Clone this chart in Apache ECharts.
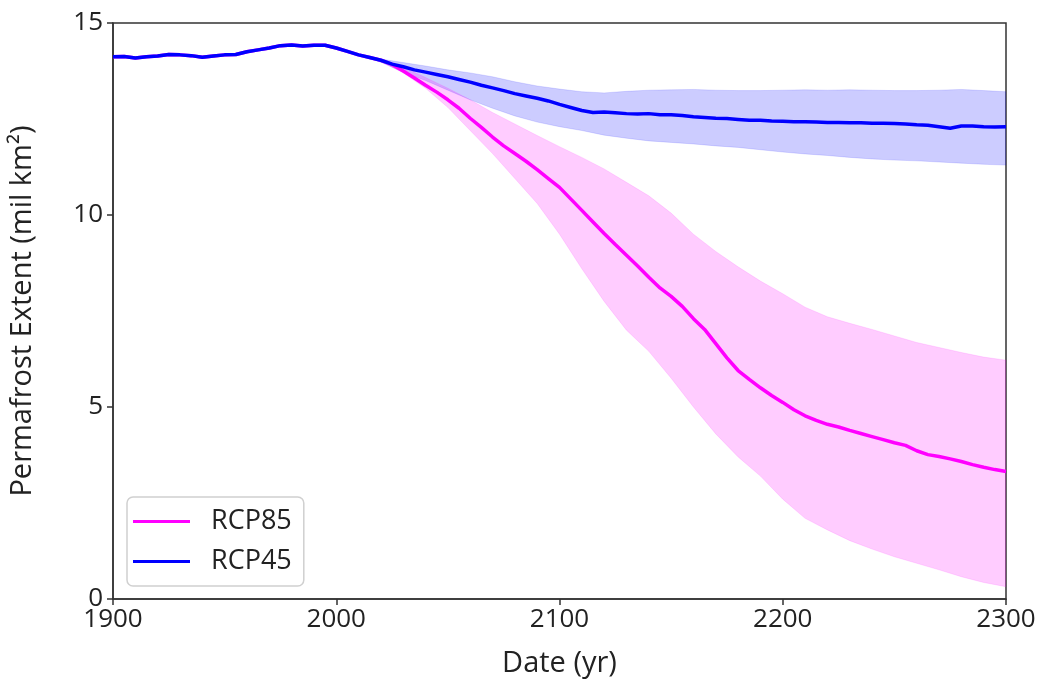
<!DOCTYPE html>
<html>
<head>
<meta charset="utf-8">
<script src="https://cdn.jsdelivr.net/npm/echarts@6/dist/echarts.min.js"></script>
<style>
html,body{margin:0;padding:0;background:#fff;}
#chart{width:1042px;height:683px;}
</style>
</head>
<body>
<div id="chart"></div>
<script>
const years = [1900,1905,1910,1915,1920,1925,1930,1935,1940,1945,1950,1955,1960,1965,1970,1975,1980,1985,1990,1995,
2000,2005,2010,2015,2020,2025,2030,2035,2040,2045,2050,2055,2060,2065,2070,2075,2080,2085,2090,2095,
2100,2105,2110,2115,2120,2125,2130,2135,2140,2145,2150,2155,2160,2165,2170,2175,2180,2185,2190,2195,
2200,2205,2210,2215,2220,2225,2230,2235,2240,2245,2250,2255,2260,2265,2270,2275,2280,2285,2290,2295,2300];

const rcp45Mean = [14.12,14.13,14.09,14.12,14.14,14.18,14.17,14.15,14.11,14.14,14.17,14.18,14.25,14.30,14.35,14.41,14.43,14.40,14.42,14.42,
14.35,14.26,14.17,14.10,14.03,13.93,13.86,13.78,13.72,13.66,13.60,13.53,13.46,13.38,13.31,13.24,13.16,13.10,13.04,12.97,
12.88,12.80,12.72,12.67,12.68,12.66,12.64,12.63,12.64,12.61,12.61,12.59,12.56,12.54,12.52,12.51,12.49,12.47,12.47,12.45,
12.44,12.43,12.43,12.42,12.41,12.41,12.40,12.40,12.39,12.39,12.38,12.37,12.35,12.34,12.30,12.26,12.32,12.32,12.30,12.29,12.30];

const rcp85Mean = [14.12,14.13,14.09,14.12,14.14,14.18,14.17,14.15,14.11,14.14,14.17,14.18,14.25,14.30,14.35,14.41,14.43,14.40,14.42,14.42,
14.35,14.26,14.17,14.10,14.03,13.92,13.75,13.57,13.38,13.20,13.00,12.78,12.52,12.28,12.03,11.80,11.60,11.40,11.18,10.95,
10.72,10.42,10.12,9.82,9.52,9.23,8.95,8.67,8.38,8.10,7.88,7.62,7.30,7.02,6.65,6.28,5.95,5.72,5.50,5.30,
5.12,4.93,4.77,4.65,4.55,4.48,4.39,4.31,4.23,4.15,4.07,4.00,3.86,3.76,3.71,3.65,3.58,3.50,3.43,3.37,3.32];

const bandYears = [2010,2020,2030,2040,2050,2060,2070,2080,2090,2100,2110,2120,2130,2140,2150,
2160,2170,2180,2190,2200,2210,2220,2230,2240,2250,2260,2270,2280,2290,2300];

const rcp45Upper = [14.17,14.06,13.97,13.88,13.78,13.70,13.60,13.47,13.36,13.28,13.21,13.18,13.22,13.25,13.26,
13.27,13.25,13.24,13.24,13.25,13.26,13.25,13.26,13.25,13.24,13.24,13.25,13.27,13.24,13.21];
const rcp45Lower = [14.17,13.98,13.72,13.50,13.25,13.00,12.78,12.58,12.42,12.30,12.20,12.08,12.00,11.93,11.89,
11.85,11.80,11.76,11.70,11.64,11.59,11.55,11.50,11.46,11.43,11.41,11.38,11.35,11.32,11.30];
const rcp85Upper = [14.17,14.05,13.85,13.58,13.30,13.00,12.67,12.37,12.07,11.78,11.50,11.20,10.85,10.50,10.05,
9.50,9.05,8.65,8.28,7.95,7.60,7.35,7.18,7.02,6.85,6.68,6.55,6.42,6.30,6.22];
const rcp85Lower = [14.17,14.00,13.70,13.30,12.80,12.20,11.60,10.95,10.30,9.50,8.60,7.75,7.00,6.45,5.75,
5.00,4.30,3.70,3.20,2.60,2.10,1.80,1.52,1.30,1.10,0.93,0.76,0.58,0.43,0.32];

const seriesNames = ['RCP85', 'RCP45'];
const xTitle = 'Date (yr)';
const yTitle = 'Permafrost Extent (mil km\u00B2)';

const FONT = 'Open Sans';
const pairs = (xs, ys) => xs.map((x, i) => [x, ys[i]]);

// band polygon: upper edge left->right, lower edge right->left, mapped through the axes
function band(name, lo, hi, fill, edge) {
  const rows = bandYears.map((x, i) => [x, lo[i], hi[i]]);
  return {
    name: name, type: 'custom', silent: true, z: 1, clip: true,
    data: rows,
    encode: { x: 0, y: [1, 2] },
    renderItem: function (params, api) {
      if (params.dataIndex !== 0) return null;
      const top = rows.map(r => api.coord([r[0], r[2]]));
      const bot = rows.slice().reverse().map(r => api.coord([r[0], r[1]]));
      return {
        type: 'polygon',
        shape: { points: top.concat(bot) },
        style: { fill: fill, stroke: edge, lineWidth: 1 }
      };
    }
  };
}

const chart = echarts.init(document.getElementById('chart'), null, { renderer: 'canvas' });
chart.setOption({
  animation: false,
  backgroundColor: '#fff',
  textStyle: { fontFamily: FONT },
  grid: { left: 113, right: 36, top: 23, bottom: 84, show: true, borderColor: '#333', borderWidth: 1.5, backgroundColor: 'transparent' },
  legend: {
    data: seriesNames.map(n => ({ name: n, icon: 'rect' })),
    orient: 'vertical', left: 127, top: 497,
    itemWidth: 57, itemHeight: 3, itemGap: 13,
    padding: [11, 12, 11, 6],
    backgroundColor: '#fff', borderColor: '#d0d0d0', borderWidth: 1.5, borderRadius: 6,
    textStyle: { fontFamily: FONT, fontSize: 27, color: '#222', padding: [0, 0, 0, 16] }
  },
  xAxis: {
    type: 'value', min: 1900, max: 2300, interval: 100,
    name: xTitle, nameLocation: 'middle', nameGap: 50,
    nameTextStyle: { fontFamily: FONT, fontSize: 29, color: '#222' },
    axisLine: { show: true, onZero: false, lineStyle: { color: '#333', width: 1.5 } },
    axisTick: { show: true, inside: false, length: 6, lineStyle: { color: '#333', width: 1.5 } },
    axisLabel: { fontFamily: FONT, fontSize: 26, color: '#222', margin: 8, formatter: v => String(v) },
    splitLine: { show: false }
  },
  yAxis: {
    type: 'value', min: 0, max: 15, interval: 5,
    name: yTitle, nameLocation: 'middle', nameGap: 76,
    nameTextStyle: { fontFamily: FONT, fontSize: 29, color: '#222' },
    axisLine: { show: true, lineStyle: { color: '#333', width: 1.5 } },
    axisTick: { show: true, inside: false, length: 6, lineStyle: { color: '#333', width: 1.5 } },
    axisLabel: { fontFamily: FONT, fontSize: 26, color: '#222', margin: 10 },
    splitLine: { show: false }
  },
  series: [
    band('RCP45 range', rcp45Lower, rcp45Upper, 'rgba(0,0,255,0.2)', 'rgba(0,0,255,0.12)'),
    band('RCP85 range', rcp85Lower, rcp85Upper, 'rgba(255,0,255,0.2)', 'rgba(255,0,255,0.12)'),
    { name: seriesNames[0], type: 'line', data: pairs(years, rcp85Mean), symbol: 'none', z: 3,
      color: '#ff00ff', lineStyle: { width: 3.5, color: '#ff00ff' } },
    { name: seriesNames[1], type: 'line', data: pairs(years, rcp45Mean), symbol: 'none', z: 4,
      color: '#0000ff', lineStyle: { width: 3.5, color: '#0000ff' } }
  ]
});
</script>
</body>
</html>
